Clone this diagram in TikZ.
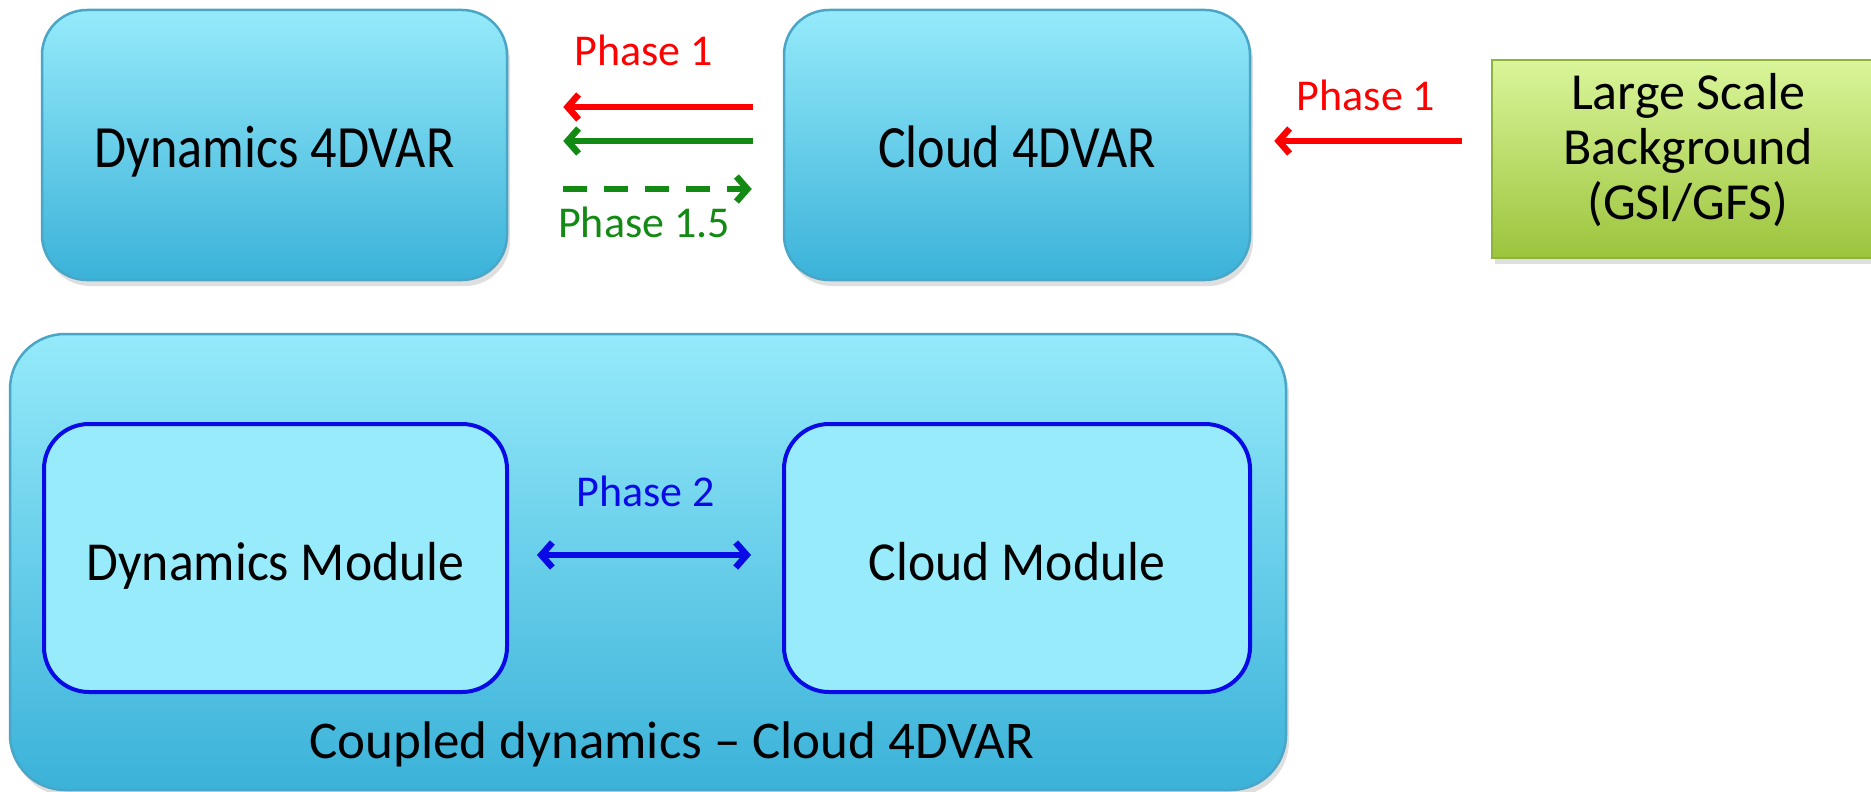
\documentclass[tikz,border=0pt]{standalone}
\usepackage{fontspec}
\setmainfont{Carlito}
\newfontfamily\tallfont{Carlito}[FakeStretch=0.87]
\newfontfamily\modfont{Carlito}[FakeStretch=0.94]
\usetikzlibrary{arrows.meta,shadows}
\definecolor{cyantop}{HTML}{95EAFA}
\definecolor{cyanbot}{HTML}{3BB2D9}
\definecolor{cyanedge}{HTML}{4AA6C6}
\definecolor{greentop}{HTML}{DAF59A}
\definecolor{greenbot}{HTML}{9CC43C}
\definecolor{greenedge}{HTML}{8DB23E}
\definecolor{modfill}{HTML}{98EBFB}
\definecolor{modedge}{HTML}{0A0AE6}
\definecolor{pgreen}{HTML}{138A13}
\begin{document}
\begin{tikzpicture}[x=1pt,y=-1pt,
  topfont/.style={font=\tallfont\fontsize{60}{60}\selectfont},
  modfontst/.style={font=\modfont\fontsize{55}{55}\selectfont},
  plainfont/.style={font=\fontsize{53}{61}\selectfont},
  lsfont/.style={font=\fontsize{52}{55}\selectfont},
  phasefont/.style={font=\fontsize{44}{48}\selectfont},
  cyanbox/.style={draw=cyanedge, line width=2.5pt, rounded corners=45pt,
     top color=cyantop, bottom color=cyanbot,
     drop shadow={shadow xshift=3pt, shadow yshift=-6pt, opacity=0.25}},
  greenbox/.style={draw=greenedge, line width=2.5pt,
     top color=greentop, bottom color=greenbot,
     drop shadow={shadow xshift=3pt, shadow yshift=-6pt, opacity=0.25}},
  modbox/.style={draw=modedge, line width=4pt, rounded corners=45pt,
     fill=modfill, modfontst, text height=44pt, text depth=0pt},
  arr/.style={line width=6.5pt, -{Straight Barb[length=11pt,width=25pt]}},
  darr/.style={line width=6.5pt, {Straight Barb[length=11pt,width=25pt]}-{Straight Barb[length=11pt,width=25pt]}}
]
\useasboundingbox (0,0) rectangle (1871,792);
\clip (0,0) rectangle (1871,792);
\fill[white] (0,0) rectangle (1871,792);

% top row
\node[cyanbox, topfont, text height=44pt, text depth=0pt, minimum width=465pt, minimum height=270pt] (d4) at (274.5,145) {Dynamics 4DVAR};
\node[cyanbox, topfont, text height=44pt, text depth=0pt, minimum width=466pt, minimum height=270pt] (c4) at (1017,145) {Cloud 4DVAR};
\node[greenbox, minimum width=393pt, minimum height=198pt] (ls) at (1688.5,159) {};
\node[lsfont, align=center] (lst) at (1688,150) {Large Scale\\Background\\(GSI/GFS)};

% bottom coupled box
\node[cyanbox, rounded corners=55pt, minimum width=1276pt, minimum height=456pt] (cp) at (648,562) {};
\node[modbox, minimum width=463pt, minimum height=268pt] (dm) at (275.5,558) {Dynamics Module};
\node[modbox, minimum width=466pt, minimum height=268pt] (cm) at (1017,558) {Cloud Module};
\node[plainfont, anchor=base] (cpl) at (672,758) {Coupled dynamics -- Cloud 4DVAR};

% arrows top
\draw[arr, red, shorten <=30pt, shorten >=55pt] ([yshift=38pt]c4.west) -- ([yshift=38pt]d4.east);
\draw[arr, pgreen, shorten <=30pt, shorten >=55pt] ([yshift=4pt]c4.west) -- ([yshift=4pt]d4.east);
\draw[arr, pgreen, dash pattern=on 24pt off 17pt, shorten <=55pt, shorten >=31pt] ([yshift=-44pt]d4.east) -- ([yshift=-44pt]c4.west);
\draw[arr, red, shorten <=29pt, shorten >=23pt] ([yshift=18pt]ls.west) -- ([yshift=4pt]c4.east);

% phase 2
\draw[darr, modedge, shorten <=28pt, shorten >=31pt] ([yshift=3pt]dm.east) -- ([yshift=3pt]cm.west);

% labels
\node[phasefont, text=red] (p1a) at (644,50) {Phase 1};
\node[phasefont, text=pgreen] (p15) at (644,222) {Phase 1.5};
\node[phasefont, text=red] (p1b) at (1366,95) {Phase 1};
\node[phasefont, text=modedge] (p2) at (646,491) {Phase 2};
\end{tikzpicture}
\end{document}
